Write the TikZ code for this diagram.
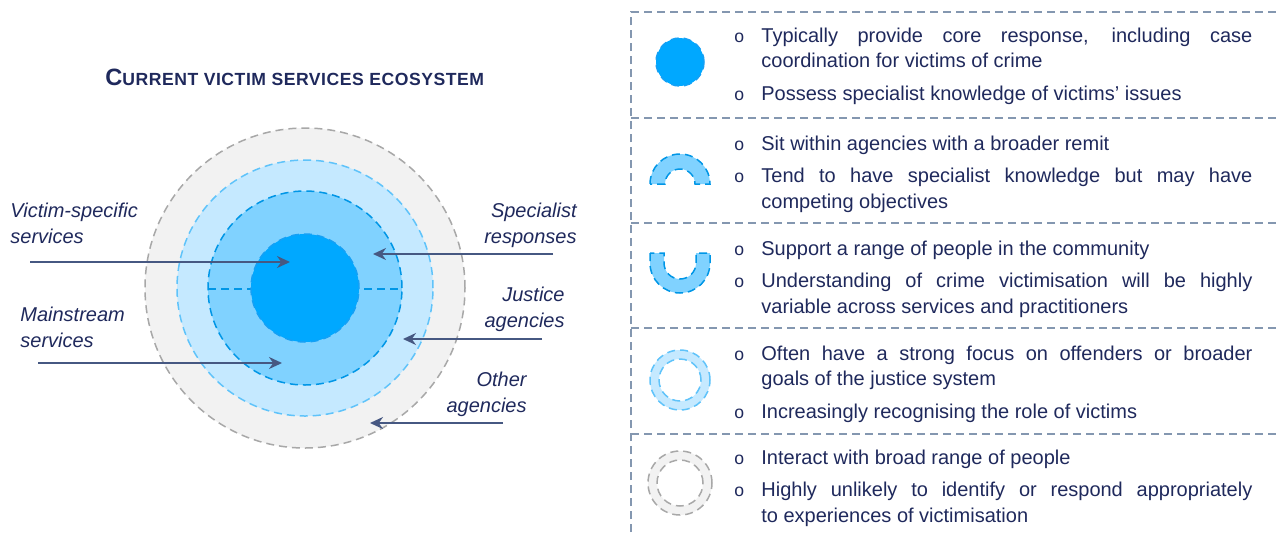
\documentclass[tikz,border=0pt]{standalone}
\usepackage{fontspec}
\setmainfont{Liberation Sans}
\usetikzlibrary{arrows.meta,positioning}
\definecolor{cCore}    {RGB}{0,168,255}
\definecolor{cCoreLine}{RGB}{20,160,245}
\definecolor{cMid}     {RGB}{128,210,255}
\definecolor{cMidLine} {RGB}{0,150,230}
\definecolor{cOut}     {RGB}{197,233,255}
\definecolor{cOutLine} {RGB}{95,195,250}
\definecolor{cRim}     {RGB}{242,242,242}
\definecolor{cRimLine} {RGB}{168,168,168}
\definecolor{cNavy}    {RGB}{31,41,92}
\definecolor{cArrow}   {RGB}{70,88,130}
\definecolor{cFrame}   {RGB}{132,151,176}
\tikzset{
  pointer/.style={-{Stealth[length=6.5pt,width=6pt]},cArrow,line width=1pt},
  lbl/.style={font=\fontsize{10pt}{13pt}\selectfont\itshape,text=cNavy,inner sep=0pt},
  lblL/.style={lbl,align=left,anchor=base west},
  lblR/.style={lbl,align=right,anchor=base east},
  ring/.style={line width=0.75pt,dash pattern=on 4pt off 2.5pt},
  sep/.style={cFrame,line width=0.8pt,dash pattern=on 4pt off 2.5pt},
  rowtxt/.style={anchor=west,inner sep=0pt,text=cNavy,
                 font=\fontsize{10pt}{12.75pt}\selectfont},
}
% one bullet of the legend, hanging indent after the "o"
\newcommand{\bitem}[1]{\par\noindent\hangindent=13.5pt\hangafter=1%
  \makebox[13.5pt][l]{\fontsize{8.8pt}{9pt}\selectfont o}#1\par}
\newcommand{\rowbox}[1]{\begin{minipage}{259pt}\setlength{\parskip}{3.5pt}%
  \hyphenpenalty=10000\exhyphenpenalty=10000#1\end{minipage}}

\begin{document}
\begin{tikzpicture}[x=0.5pt,y=0.5pt]
  \useasboundingbox (0,0) rectangle (1276,-532);

  \node[anchor=base west,inner sep=0pt,text=cNavy] (title) at (105,-85)
    {\bfseries\addfontfeature{LetterSpace=3}\fontsize{11.8pt}{12pt}\selectfont C\fontsize{8.8pt}{9pt}\selectfont URRENT VICTIM SERVICES ECOSYSTEM};

  % nested rings of the ecosystem
  \coordinate (eco) at (305,-288);
  \draw[ring,fill=cRim,draw=cRimLine] (eco) circle[radius=160];
  \draw[ring,fill=cOut,draw=cOutLine] (eco) circle[radius=128];
  \draw[ring,fill=cMid,draw=cMidLine] (eco) circle[radius=97];
  \draw[ring,draw=cMidLine] (208,-289) -- (402,-289);
  \draw[ring,fill=cCore,draw=cCoreLine] (eco) circle[radius=54];

  % labels and pointers
  \node[lblL] (vs)  at (10,-243)  {Victim-specific\\services};
  \node[lblL] (ms)  at (20,-347)  {Mainstream\\services};
  \node[lblR] (sr)  at (577,-243) {Specialist\\responses};
  \node[lblR] (ja)  at (565,-327) {Justice\\agencies};
  \node[lblR] (oa)  at (527,-412) {Other\\agencies};

  \coordinate (vs-t) at (30,-262);  \coordinate (vs-h) at (290,-262);
  \coordinate (ms-t) at (38,-363);  \coordinate (ms-h) at (282,-363);
  \coordinate (sr-t) at (553,-254); \coordinate (sr-h) at (373,-254);
  \coordinate (ja-t) at (542,-339); \coordinate (ja-h) at (403,-339);
  \coordinate (oa-t) at (503,-423); \coordinate (oa-h) at (370,-423);
  \foreach \a in {vs,ms,sr,ja,oa}
    \draw[pointer] (\a-t) -- (\a-h);

  % legend frame
  \draw[sep] (631,-532) -- (631,-12) -- (1276,-12);
  \foreach \y in {118,223,328,434}
    \draw[sep] (631,-\y) -- (1276,-\y);

  % legend icons
  \draw[ring,fill=cCore,draw=cCoreLine] (680,-62) circle[radius=24];
  \draw[ring,fill=cMid,draw=cMidLine] (650,-184) arc[start angle=180,end angle=0,radius=30]
    -- (695,-184) arc[start angle=0,end angle=180,radius=15] -- cycle;
  \draw[ring,fill=cMid,draw=cMidLine] (650,-253) -- (650,-263)
    arc[start angle=180,end angle=360,radius=30] -- (710,-253) -- (696,-253) -- (696,-263)
    arc[start angle=0,end angle=-180,radius=16] -- (664,-253) -- cycle;
  \draw[ring,fill=cOut,draw=cOutLine,even odd rule] (680,-380) circle[radius=30]
    (680,-380) circle[radius=21];
  \draw[ring,fill=cRim,draw=cRimLine,even odd rule] (680,-483) circle[radius=32]
    (680,-483) circle[radius=23];

  % legend texts
  \node[rowtxt] (t1) at (734,-66) {\rowbox{%
    \bitem{Typically provide core response, including case coordination for victims of crime}
    \bitem{Possess specialist knowledge of victims' issues}}};
  \node[rowtxt] (t2) at (734,-174) {\rowbox{%
    \bitem{Sit within agencies with a broader remit}
    \bitem{Tend to have specialist knowledge but may have competing objectives}}};
  \node[rowtxt] (t3) at (734,-279) {\rowbox{%
    \bitem{Support a range of people in the community}
    \bitem{Understanding of crime victimisation will be highly variable across services and practitioners}}};
  \node[rowtxt] (t4) at (734,-384) {\rowbox{%
    \bitem{Often have a strong focus on offenders or broader\linebreak goals of the justice system}
    \bitem{Increasingly recognising the role of victims}}};
  \node[rowtxt] (t5) at (734,-488) {\rowbox{%
    \bitem{Interact with broad range of people}
    \bitem{Highly unlikely to identify or respond appropriately\linebreak to experiences of victimisation}}};
\end{tikzpicture}
\end{document}
